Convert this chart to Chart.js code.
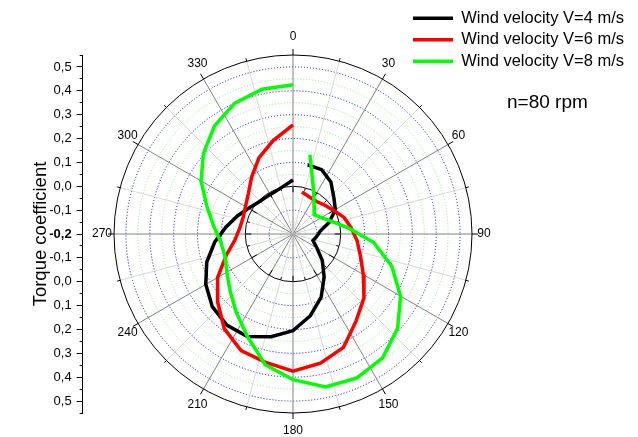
<!DOCTYPE html>
<html>
<head>
<meta charset="utf-8">
<script src="https://cdn.jsdelivr.net/npm/chart.js@4.4.1/dist/chart.umd.min.js"></script>
<style>
html,body{margin:0;padding:0;background:#fff;}
#wrap{width:638px;height:437px;}
</style>
</head>
<body>
<div id="wrap"><canvas id="c" width="638" height="437"></canvas></div>
<script>
// ---- data (angle in degrees, clockwise from top; torque coefficient) ----
const angles = [12,24,36,48,60,72,84,96,108,120,132,144,156,168,180,192,204,216,228,240,252,264,276,288,300,312,324,336,348,360];
const cmV4 = [0.096,0.095,0.07,0.03,0.005,-0.04,-0.085,-0.1,-0.112,-0.085,-0.035,0.022,0.09,0.15,0.205,0.24,0.27,0.272,0.255,0.222,0.18,0.13,0.082,0.045,0.015,-0.003,-0.009,-0.008,0.003,0.026];
const cmV6 = [-0.02,-0.03,-0.032,-0.02,-0.003,0.025,0.045,0.07,0.097,0.14,0.2,0.25,0.32,0.353,0.375,0.35,0.335,0.29,0.225,0.165,0.095,0.045,0.025,0.02,0.03,0.052,0.095,0.15,0.2,0.257];
const cmV8 = [0.14,0.01,-0.05,-0.08,-0.062,-0.03,0.035,0.14,0.235,0.32,0.39,0.44,0.46,0.455,0.41,0.36,0.27,0.205,0.155,0.12,0.10,0.105,0.135,0.18,0.245,0.305,0.36,0.40,0.42,0.425];
const seriesLabels = ['Wind velocity V=4 m/s','Wind velocity V=6 m/s','Wind velocity V=8 m/s'];
const angleTickLabels = ['0','30','60','90','120','150','180','210','240','270','300','330'];
const noteText = 'n=80 rpm';
const axisTitle = 'Torque coefficient';
const R_MIN = -0.2, R_MAX = 0.55;   // radial axis range

// ---- layout / style constants ----
const FONT = '"Liberation Sans", Arial, Helvetica, sans-serif';
const CENTER_X = 293;
Chart.defaults.font.family = FONT;
Chart.defaults.color = '#000';

function toXY(vals) {
  return vals.map((v, i) => {
    const th = angles[i] * Math.PI / 180;
    const r = v - R_MIN;
    return { x: r * Math.sin(th), y: r * Math.cos(th) };
  });
}
const isMajor = v => Math.round(v * 20) % 2 === 0;

const polarGrid = {
  id: 'polarGrid',
  afterLayout(chart) {
    const xs = chart.scales.x, ys = chart.scales.y, ca = chart.chartArea;
    const ppu = (ys.bottom - ys.top) / (ys.max - ys.min);
    xs.min = -(CENTER_X - ca.left) / ppu;
    xs.max = (ca.right - CENTER_X) / ppu;
    xs.configure();
  },
  beforeDatasetsDraw(chart) {
    const ctx = chart.ctx, xs = chart.scales.x, ys = chart.scales.y;
    const cx = xs.getPixelForValue(0), cy = ys.getPixelForValue(0);
    const rad = v => cy - ys.getPixelForValue(v - R_MIN);
    const rOut = rad(R_MAX);
    ctx.save();
    // rings
    for (let k = -15; k <= 50; k += 5) {
      const v = k / 100;
      ctx.beginPath();
      ctx.arc(cx, cy, rad(v), 0, Math.PI * 2);
      if (k === 0) {
        ctx.setLineDash([]); ctx.strokeStyle = '#000'; ctx.lineWidth = 1;
      } else if (k % 10 === 0) {
        ctx.setLineDash([1, 2]); ctx.strokeStyle = '#0000ff'; ctx.lineWidth = 1;
      } else {
        ctx.setLineDash([1, 2]); ctx.strokeStyle = 'rgb(140,228,140)'; ctx.lineWidth = 1;
      }
      ctx.stroke();
    }
    ctx.setLineDash([]);
    // spokes
    for (let a = 0; a < 360; a += 15) {
      const t = a * Math.PI / 180;
      ctx.beginPath();
      ctx.moveTo(cx, cy);
      ctx.lineTo(cx + rOut * Math.sin(t), cy - rOut * Math.cos(t));
      ctx.strokeStyle = a % 30 === 0 ? 'rgb(130,130,130)' : 'rgb(215,215,215)';
      ctx.lineWidth = 1;
      ctx.stroke();
    }
    // outer circle
    ctx.beginPath();
    ctx.arc(cx, cy, rOut, 0, Math.PI * 2);
    ctx.strokeStyle = '#000'; ctx.lineWidth = 1; ctx.stroke();
    // ticks on outer circle and zero circle
    const r0 = rad(0);
    for (let a = 0; a < 360; a += 15) {
      const t = a * Math.PI / 180, s = Math.sin(t), c = Math.cos(t);
      const L = a % 30 === 0 ? 6 : 3;
      ctx.beginPath();
      ctx.moveTo(cx + rOut * s, cy - rOut * c);
      ctx.lineTo(cx + (rOut + L) * s, cy - (rOut + L) * c);
      ctx.moveTo(cx + r0 * s, cy - r0 * c);
      ctx.lineTo(cx + (r0 - L) * s, cy - (r0 - L) * c);
      ctx.strokeStyle = '#000'; ctx.lineWidth = 1; ctx.stroke();
    }
    // angle labels
    ctx.fillStyle = '#000';
    ctx.font = '12px ' + FONT;
    ctx.textAlign = 'center'; ctx.textBaseline = 'middle';
    angleTickLabels.forEach((lab, i) => {
      const t = i * 30 * Math.PI / 180;
      ctx.fillText(lab, cx + (rOut + 12) * Math.sin(t), cy - (rOut + 18) * Math.cos(t));
    });
    ctx.restore();
  },
  afterDraw(chart) {
    const ctx = chart.ctx;
    ctx.save();
    ctx.fillStyle = '#000';
    ctx.font = '19px ' + FONT;
    ctx.textAlign = 'left'; ctx.textBaseline = 'middle';
    ctx.fillText(noteText, 507, 103);
    ctx.restore();
  }
};

const common = { showLine: true, pointRadius: 0, pointHoverRadius: 0, borderWidth: 3.5, tension: 0, clip: false, fill: false };

new Chart(document.getElementById('c'), {
  type: 'scatter',
  data: {
    datasets: [
      Object.assign({ label: seriesLabels[0], data: toXY(cmV4), borderColor: '#000000', backgroundColor: '#000000', order: 2 }, common),
      Object.assign({ label: seriesLabels[1], data: toXY(cmV6), borderColor: '#ff0000', backgroundColor: '#ff0000', order: 1 }, common),
      Object.assign({ label: seriesLabels[2], data: toXY(cmV8), borderColor: '#00ff00', backgroundColor: '#00ff00', order: 0 }, common)
    ]
  },
  options: {
    responsive: false,
    animation: false,
    devicePixelRatio: 1,
    events: [],
    layout: { padding: { top: 5, left: 0, right: 4, bottom: 24 } },
    scales: {
      x: { type: 'linear', display: false, min: -1, max: 1 },
      y: {
        type: 'linear', position: 'left',
        min: -(R_MAX - R_MIN), max: (R_MAX - R_MIN),
        border: { display: true, color: '#000', width: 1 },
        grid: {
          drawOnChartArea: false, drawTicks: true, tickLength: 6, color: '#000', lineWidth: 1,
          tickBorderDash: c => (c.tick && isMajor(c.tick.value)) ? [] : [3, 3],
          tickBorderDashOffset: c => (c.tick && isMajor(c.tick.value)) ? 0 : 3
        },
        ticks: {
          stepSize: 0.05, autoSkip: false, padding: 5, color: '#000',
          font: c => ({ size: 13, weight: (c.tick && Math.abs(c.tick.value) < 1e-9) ? 'bold' : 'normal' }),
          callback: v => {
            const n = Math.round(v * 20);
            if (n % 2 !== 0) return '';
            const k = Math.abs(n) * 5 + Math.round(R_MIN * 100);
            return (k / 100).toFixed(1).replace('.', ',');
          }
        },
        title: { display: true, text: axisTitle, color: '#000', font: { size: 18.5, lineHeight: 0.5 }, padding: { top: 36, bottom: -1 } }
      }
    },
    plugins: {
      title: { display: true, text: '', fullSize: false, position: 'top', padding: { top: 50, bottom: 0 }, font: { size: 1, lineHeight: 0 } },
      legend: {
        position: 'right', align: 'start', maxWidth: 400,
        labels: {
          usePointStyle: true, pointStyle: 'line', pointStyleWidth: 40, boxWidth: 40,
          padding: 5, color: '#000', font: { size: 16.5 },
          sort: (a, b) => a.datasetIndex - b.datasetIndex
        }
      },
      tooltip: { enabled: false }
    }
  },
  plugins: [polarGrid]
});
</script>
</body>
</html>
